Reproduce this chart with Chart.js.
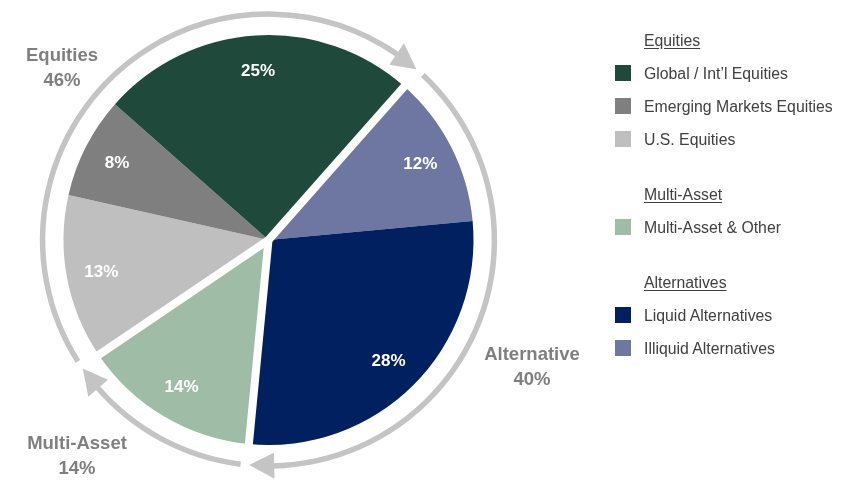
<!DOCTYPE html>
<html>
<head>
<meta charset="utf-8">
<script src="https://cdn.jsdelivr.net/npm/chart.js@4.4.1/dist/chart.umd.min.js"></script>
<style>
    body { margin: 0; background: #fff; font-family: "Liberation Sans", Arial, sans-serif; }
    #wrap { position: relative; width: 853px; height: 491px; overflow: hidden; }
    #box { position: absolute; left: 0; top: 0; width: 853px; height: 491px; }
    .callout { position: absolute; width: 140px; margin-left: -70px; text-align: center;
        font-weight: bold; font-size: 18.5px; line-height: 25px; color: #7f7f7f; }
    #legend { position: absolute; left: 615px; top: 23.5px; color: #404040; font-size: 15.8px; }
    .lg-group { margin-bottom: 22px; }
    .lg-row { position: relative; height: 33px; line-height: 33px; padding-left: 29px; white-space: nowrap; }
    .lg-head { text-decoration: underline; text-underline-offset: 2px; }
    .lg-box { position: absolute; left: 0; top: 8.5px; width: 16px; height: 16px; }
</style>
</head>
<body>
<div id="wrap">
    <div id="box"><canvas id="pie"></canvas></div>
    <div id="legend"></div>
</div>
<script>
// Slice data, clockwise from the top-right
const sliceLabels = ['Illiquid Alternatives', 'Liquid Alternatives', 'Multi-Asset & Other', 'U.S. Equities', 'Emerging Markets Equities', 'Global / Int\u2019l Equities'];
const sliceValues = [12, 28, 14, 13, 8, 25];
const sliceGroups = ['Alternatives', 'Alternatives', 'Multi-Asset', 'Equities', 'Equities', 'Equities'];
const sliceColors = ['#6e77a1', '#002060', '#9fbca7', '#bfbfbf', '#7f7f7f', '#1f4a3b'];

// Groups (legend order) and the callout names around the pie
const groupNames = ['Equities', 'Multi-Asset', 'Alternatives'];
const groupCallouts = ['Equities', 'Multi-Asset', 'Alternative'];
const legendOrder = {
    'Equities': ['Global / Int\u2019l Equities', 'Emerging Markets Equities', 'U.S. Equities'],
    'Multi-Asset': ['Multi-Asset & Other'],
    'Alternatives': ['Liquid Alternatives', 'Illiquid Alternatives']
};

// Legend (HTML, grouped with underlined headers)
const legendEl = document.getElementById('legend');
groupNames.forEach(g => {
    const grp = document.createElement('div');
    grp.className = 'lg-group';
    grp.innerHTML = `<div class="lg-row lg-head">${g}</div>`;
    legendOrder[g].forEach(name => {
        const i = sliceLabels.indexOf(name);
        grp.innerHTML += `<div class="lg-row"><span class="lg-box" style="background:${sliceColors[i]}"></span>${name.replace('&', '&amp;')}</div>`;
    });
    legendEl.appendChild(grp);
});

// Callout text positions (layout only)
const calloutPos = { 'Equities': [62, 42], 'Multi-Asset': [77, 430], 'Alternatives': [532, 341] };
groupNames.forEach((g, k) => {
    const total = sliceValues.filter((v, i) => sliceGroups[i] === g).reduce((a, b) => a + b, 0);
    const d = document.createElement('div');
    d.className = 'callout';
    d.style.left = calloutPos[g][0] + 'px';
    d.style.top = calloutPos[g][1] + 'px';
    d.innerHTML = `${groupCallouts[k]}<br>${total}%`;
    document.getElementById('wrap').appendChild(d);
});

// Group separators, slice labels and the outer arrows
const groupDecor = {
    id: 'groupDecor',
    afterDatasetsDraw(chart) {
        const ctx = chart.ctx;
        const arcs = chart.getDatasetMeta(0).data;
        const cx = arcs[0].x, cy = arcs[0].y;
        const R = arcs[0].outerRadius;
        const deg = Math.PI / 180;

        // angular span of each group
        const spans = groupNames.map(g => {
            const idx = sliceGroups.map((s, i) => s === g ? i : -1).filter(i => i >= 0);
            return [arcs[idx[0]].startAngle, arcs[idx[idx.length - 1]].endAngle];
        });

        ctx.save();
        // white gaps between groups
        ctx.strokeStyle = '#ffffff';
        ctx.lineWidth = 8;
        spans.forEach(([a0]) => {
            ctx.beginPath();
            ctx.moveTo(cx, cy);
            ctx.lineTo(cx + Math.cos(a0) * (R + 4), cy + Math.sin(a0) * (R + 4));
            ctx.stroke();
        });

        // percentage labels
        ctx.fillStyle = '#ffffff';
        ctx.font = 'bold 17px "Liberation Sans", Arial, sans-serif';
        ctx.textAlign = 'center';
        ctx.textBaseline = 'middle';
        arcs.forEach((a, i) => {
            const mid = (a.startAngle + a.endAngle) / 2;
            const r = R * 0.83;
            ctx.fillText(sliceValues[i] + '%', cx + Math.cos(mid) * r, cy + Math.sin(mid) * r + 1);
        });

        // outer arrows
        const AR = R * 1.102;
        const headLen = 25, headHalf = 13;
        ctx.strokeStyle = '#c4c4c4';
        ctx.fillStyle = '#c4c4c4';
        ctx.lineWidth = 5.5;
        spans.forEach(([a0, a1]) => {
            const start = a0 + 1.6 * deg;
            const tip = a1 - 0.6 * deg;
            const base = tip - headLen / AR;
            ctx.beginPath();
            ctx.arc(cx, cy, AR, start, base + 2 / AR);
            ctx.stroke();
            ctx.beginPath();
            ctx.moveTo(cx + Math.cos(tip) * AR, cy + Math.sin(tip) * AR);
            ctx.lineTo(cx + Math.cos(base) * (AR + headHalf), cy + Math.sin(base) * (AR + headHalf));
            ctx.lineTo(cx + Math.cos(base) * (AR - headHalf), cy + Math.sin(base) * (AR - headHalf));
            ctx.closePath();
            ctx.fill();
        });
        ctx.restore();
    }
};

new Chart(document.getElementById('pie'), {
    type: 'pie',
    data: {
        labels: sliceLabels,
        datasets: [{
            data: sliceValues,
            backgroundColor: sliceColors,
            borderWidth: 0
        }]
    },
    options: {
        responsive: true,
        maintainAspectRatio: false,
        animation: false,
        rotation: 41.5,
        layout: { padding: { left: 63, right: 379, top: 35, bottom: 46 } },
        plugins: {
            legend: { display: false },
            tooltip: { enabled: false }
        }
    },
    plugins: [groupDecor]
});
</script>
</body>
</html>
